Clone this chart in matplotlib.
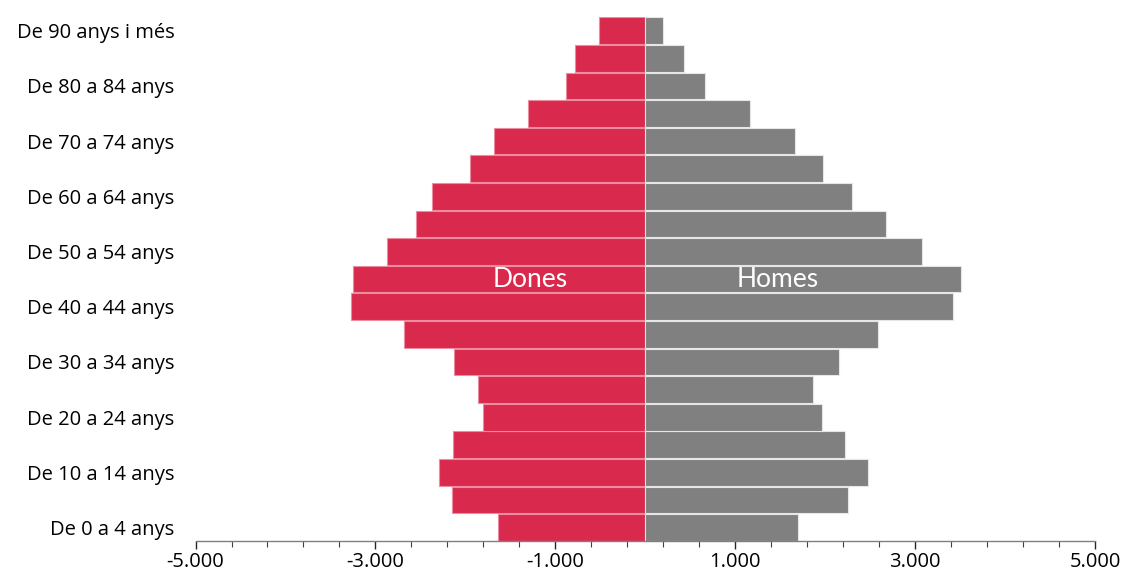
import matplotlib
matplotlib.use("Agg")
from matplotlib import pyplot as plt
from matplotlib.ticker import FixedLocator, FuncFormatter

# population by age group, bottom (youngest) to top (oldest)
ages = ["De 0 a 4 anys", "De 5 a 9 anys", "De 10 a 14 anys", "De 15 a 19 anys",
        "De 20 a 24 anys", "De 25 a 29 anys", "De 30 a 34 anys", "De 35 a 39 anys",
        "De 40 a 44 anys", "De 45 a 49 anys", "De 50 a 54 anys", "De 55 a 59 anys",
        "De 60 a 64 anys", "De 65 a 69 anys", "De 70 a 74 anys", "De 75 a 79 anys",
        "De 80 a 84 anys", "De 85 a 89 anys", "De 90 anys i més"]
women = [1636, 2150, 2291, 2139, 1802, 1858, 2124, 2687, 3276, 3247,
         2876, 2547, 2376, 1953, 1683, 1309, 880, 780, 520]
men = [1698, 2258, 2472, 2224, 1965, 1865, 2157, 2587, 3417, 3509,
       3072, 2676, 2298, 1980, 1669, 1161, 661, 435, 194]

major_ticks = [-5000, -3000, -1000, 1000, 3000, 5000]
minor_ticks = list(range(-5000, 5001, 400))

plt.rcParams['font.family'] = ["Open Sans", "DejaVu Sans"]


def main():
    fig = plt.figure(figsize=(11.25, 5.81), dpi=100)
    ax = fig.add_axes([0.1738, 0.0683, 0.7996, 0.9026])

    y = list(range(len(ages)))
    ax.barh(y, [-v for v in women], height=0.97, color="#D9294D",
            edgecolor="#EC8CA0", linewidth=0.8)
    ax.barh(y, men, height=0.97, color="#808080",
            edgecolor="#E6E6E6", linewidth=0.8)

    ax.text(-1280, 9, "Dones", color="white", fontsize=19,
            family=["Lato", "DejaVu Sans"], ha="center", va="center")
    ax.text(1476, 9, "Homes", color="white", fontsize=19,
            family=["Lato", "DejaVu Sans"], ha="center", va="center")

    ax.set_xlim(-5000, 5000)
    ax.set_ylim(-0.5, 18.5)

    ax.xaxis.set_major_locator(FixedLocator(major_ticks))
    ax.xaxis.set_minor_locator(FixedLocator(minor_ticks))
    ax.xaxis.set_major_formatter(
        FuncFormatter(lambda v, p: f"{int(v):,}".replace(",", ".")))
    ax.tick_params(axis="x", which="major", length=6, width=1,
                   color="#262626", labelsize=14.5, pad=2)
    ax.tick_params(axis="x", which="minor", length=4, width=0.8,
                   color="#404040")

    ax.set_yticks(y[::2], ages[::2])
    ax.tick_params(axis="y", length=0, labelsize=14.5, pad=15)

    for side in ["left", "right", "top"]:
        ax.spines[side].set_visible(False)
    ax.spines["bottom"].set_color("#7F7F7F")
    ax.spines["bottom"].set_linewidth(1)

    fig.savefig("out.png", dpi=100)
    return 0


if __name__ == '__main__':
    main()
